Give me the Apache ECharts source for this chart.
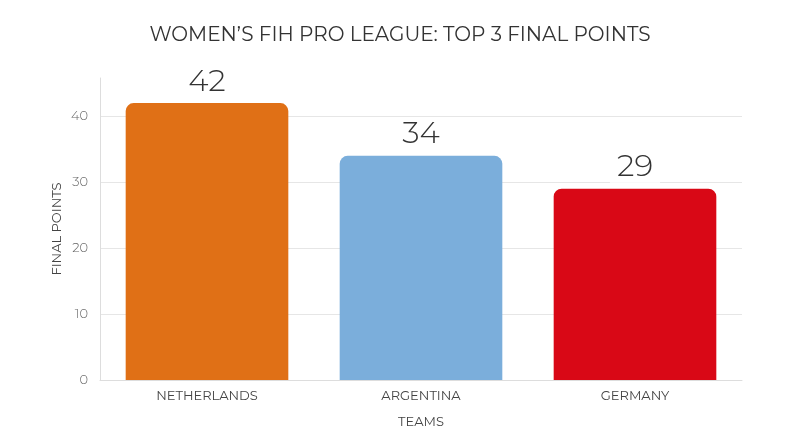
<!DOCTYPE html>
<html>
<head>
<meta charset="utf-8">
<script src="https://cdn.jsdelivr.net/npm/echarts@6/dist/echarts.min.js"></script>
<style>html,body{margin:0;padding:0;background:#fff;}#c{width:800px;height:447px;}</style>
</head>
<body>
<div id="c"></div>
<script>
const categories = ['NETHERLANDS', 'ARGENTINA', 'GERMANY'];
const points = [42, 34, 29];
const barColors = ['#E07016', '#7BAEDB', '#D90816'];
const yTicks = [0, 10, 20, 30, 40];

const FONT = 'Montserrat, Inter, "Open Sans", sans-serif';
const chart = echarts.init(document.getElementById('c'));
chart.setOption({
  backgroundColor: '#fff',
  animation: false,
  title: {
    text: 'WOMEN\u2019S FIH PRO LEAGUE: TOP 3 FINAL POINTS',
    left: 'center', top: 20,
    textStyle: { fontFamily: FONT, fontSize: 20, fontWeight: 'normal', color: '#333' }
  },
  grid: { left: 100, right: 58, top: 78, bottom: 67 },
  xAxis: {
    type: 'category',
    data: categories,
    name: 'TEAMS', nameLocation: 'middle', nameGap: 36,
    nameTextStyle: { fontFamily: FONT, fontSize: 13, color: '#444' },
    axisLine: { lineStyle: { color: '#ddd', width: 1 } },
    axisTick: { show: false },
    axisLabel: { fontFamily: FONT, fontSize: 13, color: '#444', margin: 10 }
  },
  yAxis: {
    type: 'value', min: 0, max: 45.8, interval: 10,
    name: 'FINAL POINTS', nameLocation: 'middle', nameGap: 36, nameRotate: 90,
    nameMoveOverlap: false,
    nameTextStyle: { fontFamily: FONT, fontSize: 13, color: '#444' },
    axisLine: { show: true, lineStyle: { color: '#ddd', width: 1 } },
    axisTick: { show: false },
    axisLabel: {
      fontFamily: FONT, fontSize: 13, fontWeight: 300, color: '#666', margin: 12,
      formatter: v => yTicks.indexOf(v) >= 0 ? String(v) : ''
    },
    splitLine: { lineStyle: { color: ['#e6e6e6', '#e6e6e6', '#e6e6e6', '#e6e6e6', '#e6e6e6', 'rgba(0,0,0,0)'], width: 1 } }
  },
  series: [{
    type: 'bar',
    data: points.map((v, i) => ({ value: v, itemStyle: { color: barColors[i] } })),
    barWidth: '76%',
    itemStyle: { borderRadius: [8, 8, 0, 0] },
    label: {
      show: true, position: 'top', distance: 6,
      fontFamily: FONT, fontSize: 31, fontWeight: 300, color: '#333',
      backgroundColor: '#fff', padding: [0, 7]
    }
  }]
});
</script>
</body>
</html>
